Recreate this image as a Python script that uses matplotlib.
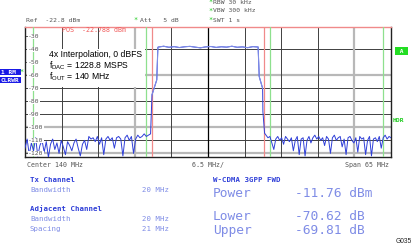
import matplotlib
matplotlib.use('Agg')
import matplotlib.pyplot as plt
from matplotlib.patches import Rectangle
import numpy as np

W_PX, H_PX = 414, 245

# barrido: 107.5 .. 172.5 MHz (centro 140 MHz, span 65 MHz)
F_START, F_STOP = 107.5, 172.5
REF, RANGE = -22.8, 100.0
YTICKS = [-30, -40, -50, -60, -70, -80, -90, -100, -110, -120]

# canal Tx y adyacentes (MHz)
TX_EDGES = [130.0, 150.0]
ADJ_EDGES = [109.0, 129.0, 151.0, 171.0]

# traza: ruido izquierdo, flanco subida, meseta, flanco bajada, ruido derecho
noise_left = [-116, -109, -121, -112, -118, -108, -122, -114, -110, -119,
              -111, -123, -113, -109, -117, -112, -120, -110, -115, -121,
              -111, -114, -118, -112, -109, -116, -122, -113, -110, -117,
              -107, -109, -108, -111, -107, -113, -108, -121, -109, -107,
              -110, -108, -116, -108, -107, -109, -122, -108, -106, -110,
              -107, -120, -109, -106, -108, -107, -105, -107, -106, -105]
rise_f = [130.05, 130.9, 131.1]
rise_db = [-75.0, -63.5, -38.4]
top_db = [-38.2, -37.6, -38.4, -37.9, -38.6, -38.0, -37.7, -38.3, -38.8, -38.1,
          -37.8, -38.5, -38.0, -38.3, -37.6, -38.4, -38.1, -38.7, -37.9, -38.2]
fall_f = [149.1, 149.7, 149.75, 150.05]
fall_db = [-61.0, -70.0, -88.0, -104.5]
noise_right = [-106, -108, -107, -112, -117, -109, -107, -110, -108, -113,
               -107, -109, -111, -108, -118, -110, -107, -121, -109, -108,
               -122, -110, -107, -112, -108, -106, -109, -107, -110, -108,
               -114, -107, -109, -120, -108, -106, -110, -108, -107, -115,
               -109, -121, -108, -107, -110, -112, -108, -119, -107, -109,
               -108, -121, -110, -107, -122, -109, -108, -111, -107, -116,
               -108, -106, -109, -107, -108]

freq = np.concatenate([np.linspace(F_START, 129.8, len(noise_left)), rise_f,
                       np.linspace(131.2, 148.9, len(top_db)), fall_f,
                       np.linspace(150.3, F_STOP, len(noise_right))])
level = np.concatenate([noise_left, rise_db, top_db, fall_db, noise_right])

MONO = 'DejaVu Sans Mono'
GRAY = '#555555'
BLUE = '#2f3fd8'
LIGHT = '#7f8ce6'

fig = plt.figure(figsize=(W_PX / 100, H_PX / 100), dpi=100)
ax = fig.add_axes([25 / W_PX, 88 / H_PX, 366 / W_PX, 130 / H_PX])


def ftxt(x, y, s, **kw):
    fig.text(x / W_PX, 1 - y / H_PX, s, **kw)


# rejilla
gris_fuerte = {-60, -100, -120}
for v in YTICKS:
    if v in (-30, -50):
        continue
    if v in gris_fuerte:
        ax.axhline(v, color='#b8b8b8', lw=1.6, zorder=1)
    else:
        ax.axhline(v, color='#404040', lw=0.7, zorder=1)
for k in range(1, 10):
    f = F_START + 6.5 * k
    if k == 5:
        ax.axvline(f, color='black', lw=0.9, zorder=1)
    elif k in (3, 9):
        ax.axvline(f, color='#b8b8b8', lw=1.6, zorder=1)
    else:
        ax.axvline(f, color='#404040', lw=0.7, zorder=1)

# cuadro blanco del texto (tapa la rejilla)
ax.add_patch(Rectangle((107.85, -68.9), 21.0, 29.3, facecolor='white',
                       edgecolor='none', zorder=2))
for y, s in [(-43.6, '4x Interpolation, 0 dBFS'),
             (-52.6, r'f$_\mathregular{DAC}$ = 1228.8 MSPS'),
             (-61.3, r'f$_\mathregular{OUT}$ = 140 MHz')]:
    ax.text(111.8, y, s, family='Liberation Sans', fontsize=6.2,
            va='center', ha='left', zorder=6)

# líneas de canal
for f in TX_EDGES:
    ax.axvline(f, color='#f08a8a', lw=0.9, zorder=3)
for f in ADJ_EDGES:
    ax.axvline(f, color='#8ee08e', lw=0.9, zorder=3)

ax.plot(freq, level, color=BLUE, lw=0.7, zorder=4)
n0 = len(noise_left)
n1 = n0 + len(rise_f) + len(top_db) + 2
ax.plot(freq[n0:n1], level[n0:n1], color=LIGHT, lw=0.8, zorder=5)

for v in YTICKS:
    ax.text(F_START + 0.6, v, '-%d' % -v, fontsize=4.6, family=MONO,
            color=GRAY, ha='left', va='center', zorder=6,
            bbox=dict(facecolor='white', edgecolor='none', pad=0.2))

ax.set_xlim(F_START, F_STOP)
ax.set_ylim(REF - RANGE, REF)
ax.set_xticks([])
ax.set_yticks(YTICKS)
ax.set_yticklabels([])
ax.tick_params(axis='y', direction='in', length=2.2, width=0.6,
               color='#444444')
for s in ('left', 'right', 'bottom'):
    ax.spines[s].set_color('#222222')
    ax.spines[s].set_linewidth(1.0)
ax.spines['top'].set_color('#f08a8a')
ax.spines['top'].set_linewidth(1.0)

ax.text(114.0, -25.4, 'POS  -22.788 dBm', fontsize=4.8, family=MONO,
        color='#f05a5a', ha='left', va='center', zorder=6)

# cabecera
ftxt(26, 20, 'Ref  -22.8 dBm', fontsize=4.6, family=MONO, color=GRAY, va='center')
ftxt(133, 20, '*', fontsize=5, family=MONO, color='#22cc22', va='center')
ftxt(140, 20, 'Att   5 dB', fontsize=4.6, family=MONO, color=GRAY, va='center')
for y, s in [(2, 'RBW 30 kHz'), (11, 'VBW 300 kHz'), (20, 'SWT 1 s')]:
    ftxt(208, y, '*', fontsize=5, family=MONO, color='#22cc22', va='center')
    ftxt(213, y, s, fontsize=4.6, family=MONO, color=GRAY, va='center')

# etiquetas laterales
ftxt(1, 72, '1 RM ', fontsize=4.4, family=MONO, color='white', va='center',
     weight='bold', bbox=dict(facecolor='#1a1ae6', edgecolor='none', pad=0.6))
ftxt(1, 80, 'CLRWR', fontsize=4.4, family=MONO, color='white', va='center',
     weight='bold', bbox=dict(facecolor='#1a1ae6', edgecolor='none', pad=0.6))
ftxt(19, 72, '*', fontsize=5, family=MONO, color='#22cc22', va='center')
ftxt(396, 51, ' A ', fontsize=4.4, family=MONO, color='white', va='center',
     weight='bold', bbox=dict(facecolor='#22dd22', edgecolor='none', pad=0.8))
ftxt(393, 121, 'HDR', fontsize=4.6, family=MONO, color='#22cc22', va='center',
     weight='bold')

# pie del gráfico
ftxt(27, 165, 'Center 140 MHz', fontsize=4.8, family=MONO, color=GRAY, va='center')
ftxt(208, 165, '6.5 MHz/', fontsize=4.8, family=MONO, color=GRAY, va='center',
     ha='center')
ftxt(389, 165, 'Span 65 MHz', fontsize=4.8, family=MONO, color=GRAY, va='center',
     ha='right')

# tabla de resultados
ftxt(30, 180, 'Tx Channel', fontsize=5.3, family=MONO, color=BLUE, va='center',
     weight='bold')
ftxt(30, 190, 'Bandwidth', fontsize=5.3, family=MONO, color=LIGHT, va='center')
ftxt(142, 190, '20 MHz', fontsize=5.3, family=MONO, color=LIGHT, va='center')
ftxt(30, 209, 'Adjacent Channel', fontsize=5.3, family=MONO, color=BLUE,
     va='center', weight='bold')
ftxt(30, 219, 'Bandwidth', fontsize=5.3, family=MONO, color=LIGHT, va='center')
ftxt(142, 219, '20 MHz', fontsize=5.3, family=MONO, color=LIGHT, va='center')
ftxt(30, 229, 'Spacing', fontsize=5.3, family=MONO, color=LIGHT, va='center')
ftxt(142, 229, '21 MHz', fontsize=5.3, family=MONO, color=LIGHT, va='center')

ftxt(213, 180, 'W-CDMA 3GPP FWD', fontsize=5.3, family=MONO, color=BLUE,
     va='center', weight='bold')
for y, nombre, valor in [(193, 'Power', '-11.76 dBm'),
                         (216, 'Lower', '-70.62 dB'),
                         (230, 'Upper', '-69.81 dB')]:
    ftxt(213, y, nombre, fontsize=9.3, family=MONO, color=LIGHT, va='center')
    ftxt(295, y, valor, fontsize=9.3, family=MONO, color=LIGHT, va='center')

ftxt(412, 241, 'G035', fontsize=4.8, family='Liberation Sans', color='#222222',
     va='center', ha='right')

fig.savefig('out.png', dpi=100, facecolor='white')
